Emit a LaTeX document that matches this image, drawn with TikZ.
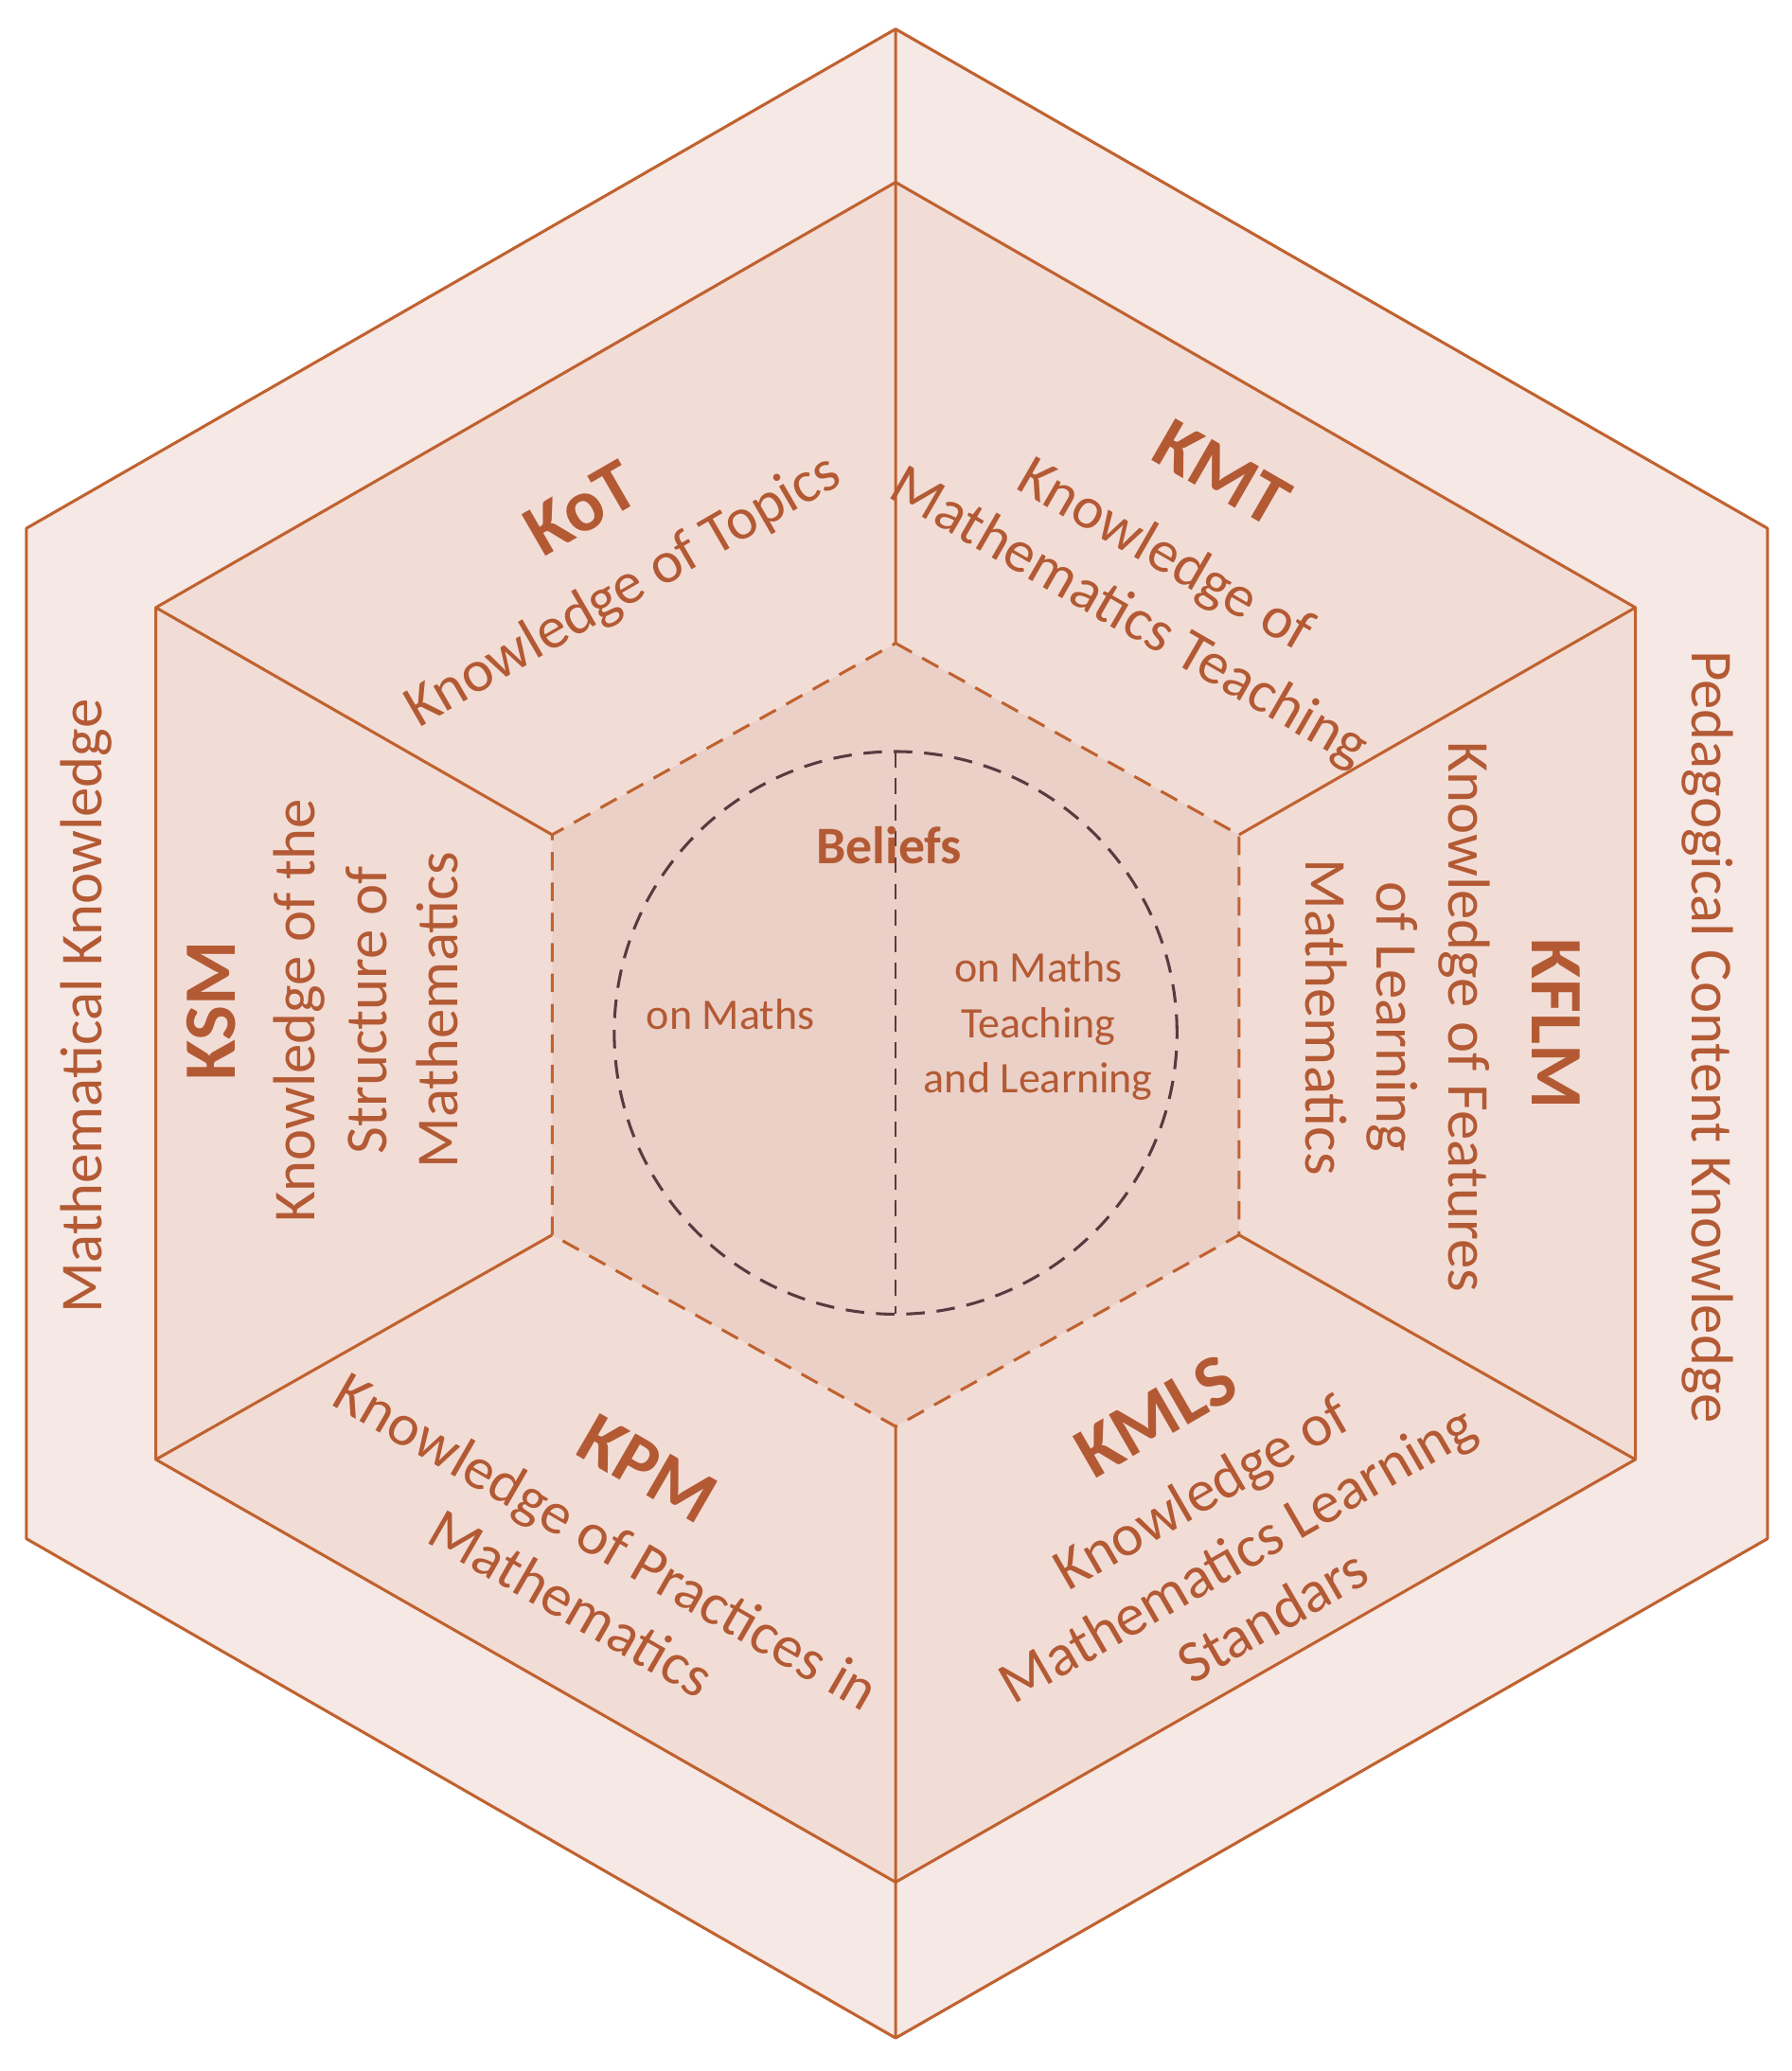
\documentclass[tikz,border=0pt]{standalone}
\usepackage{fontspec}
\setmainfont{Carlito}
\definecolor{ln}{HTML}{C0622F}
\definecolor{tx}{HTML}{B35A34}
\definecolor{fo}{HTML}{F6E8E5}
\definecolor{fm}{HTML}{F2DDD6}
\definecolor{fi}{HTML}{EBD0C7}
\definecolor{dk}{HTML}{5A3A40}
\begin{document}
\begin{tikzpicture}[x=1pt,y=1pt,
  edge/.style={draw=ln,line width=2.2pt,line join=round},
  lab/.style={text=tx,font=\fontsize{45}{54}\selectfont,align=center,inner sep=0},
  big/.style={text=tx,font=\fontsize{56}{60}\selectfont\bfseries,inner sep=0}]
\useasboundingbox (0,0) rectangle (1356,-1568);
\coordinate (O1) at (678,-22); \coordinate (O2) at (1338,-400); \coordinate (O3) at (1338,-1165);
\coordinate (O4) at (678,-1543); \coordinate (O5) at (20,-1165); \coordinate (O6) at (20,-400);
\coordinate (M1) at (678,-138); \coordinate (M2) at (1238,-460); \coordinate (M3) at (1238,-1105);
\coordinate (M4) at (678,-1425); \coordinate (M5) at (118,-1105); \coordinate (M6) at (118,-460);
\coordinate (I1) at (678,-487); \coordinate (I2) at (938,-632); \coordinate (I3) at (938,-935);
\coordinate (I4) at (678,-1080); \coordinate (I5) at (418,-935); \coordinate (I6) at (418,-632);
\coordinate (C) at (678,-782);
\path[edge,fill=fo] (O1)--(O2)--(O3)--(O4)--(O5)--(O6)--cycle;
\path[edge,fill=fm] (M1)--(M2)--(M3)--(M4)--(M5)--(M6)--cycle;
\fill[fi] (I1)--(I2)--(I3)--(I4)--(I5)--(I6)--cycle;
\draw[edge] (O1)--(M1)--(I1) (M2)--(I2) (M3)--(I3) (O4)--(M4)--(I4) (M5)--(I5) (M6)--(I6);
\draw[draw=ln,line width=2.2pt,dash pattern=on 14pt off 9pt] (I1)--(I2)--(I3)--(I4)--(I5)--(I6)--cycle;
\draw[draw=dk,line width=2.2pt,dash pattern=on 14pt off 9pt] (C) circle (213);
\draw[draw=dk,line width=1.6pt,dash pattern=on 12pt off 8pt] (678,-569)--(678,-995);
% labels
\node[big,rotate=30] (kot) at (440,-385) {KoT};
\node[lab,rotate=30] (kotd) at (472,-448) {Knowledge of Topics};
\node[big,rotate=-30] (kmt) at (925,-358) {KMT};
\node[lab,rotate=-30] (kmtd) at (868,-445) {Knowledge of\\Mathematics Teaching};
\node[big,rotate=-90] (kflm) at (1178,-775) {KFLM};
\node[lab,rotate=-90] (kflmd) at (1058,-770) {Knowledge of Features\\of Learning\\Mathematics};
\node[big,rotate=90] (ksm) at (160,-765) {KSM};
\node[lab,rotate=90] (ksmd) at (277,-765) {Knowledge of the\\Structure of\\Mathematics};
\node[big,rotate=-30] (kpm) at (490,-1112) {KPM};
\node[lab,rotate=-30] (kpmd) at (446,-1190) {Knowledge of Practices in\\Mathematics};
\node[big,rotate=30] (kmls) at (875,-1072) {KMLS};
\node[lab,rotate=30] (kmlsd) at (936,-1176) {Knowledge of\\Mathematics Learning\\Standars};
\node[lab,rotate=90] (mk) at (65,-762) {Mathematical Knowledge};
\node[lab,rotate=-90] (pck) at (1293,-785) {Pedagogical Content Knowledge};
\node[text=tx,font=\fontsize{40}{44}\selectfont\bfseries,inner sep=0] (bel) at (673,-640) {Beliefs};
\node[text=tx,font=\fontsize{33}{42}\selectfont,inner sep=0] (om) at (553,-768) {on Maths};
\node[text=tx,font=\fontsize{33}{42}\selectfont,inner sep=0,align=center] (omt) at (786,-777) {on Maths\\Teaching\\and Learning};
\end{tikzpicture}
\end{document}
